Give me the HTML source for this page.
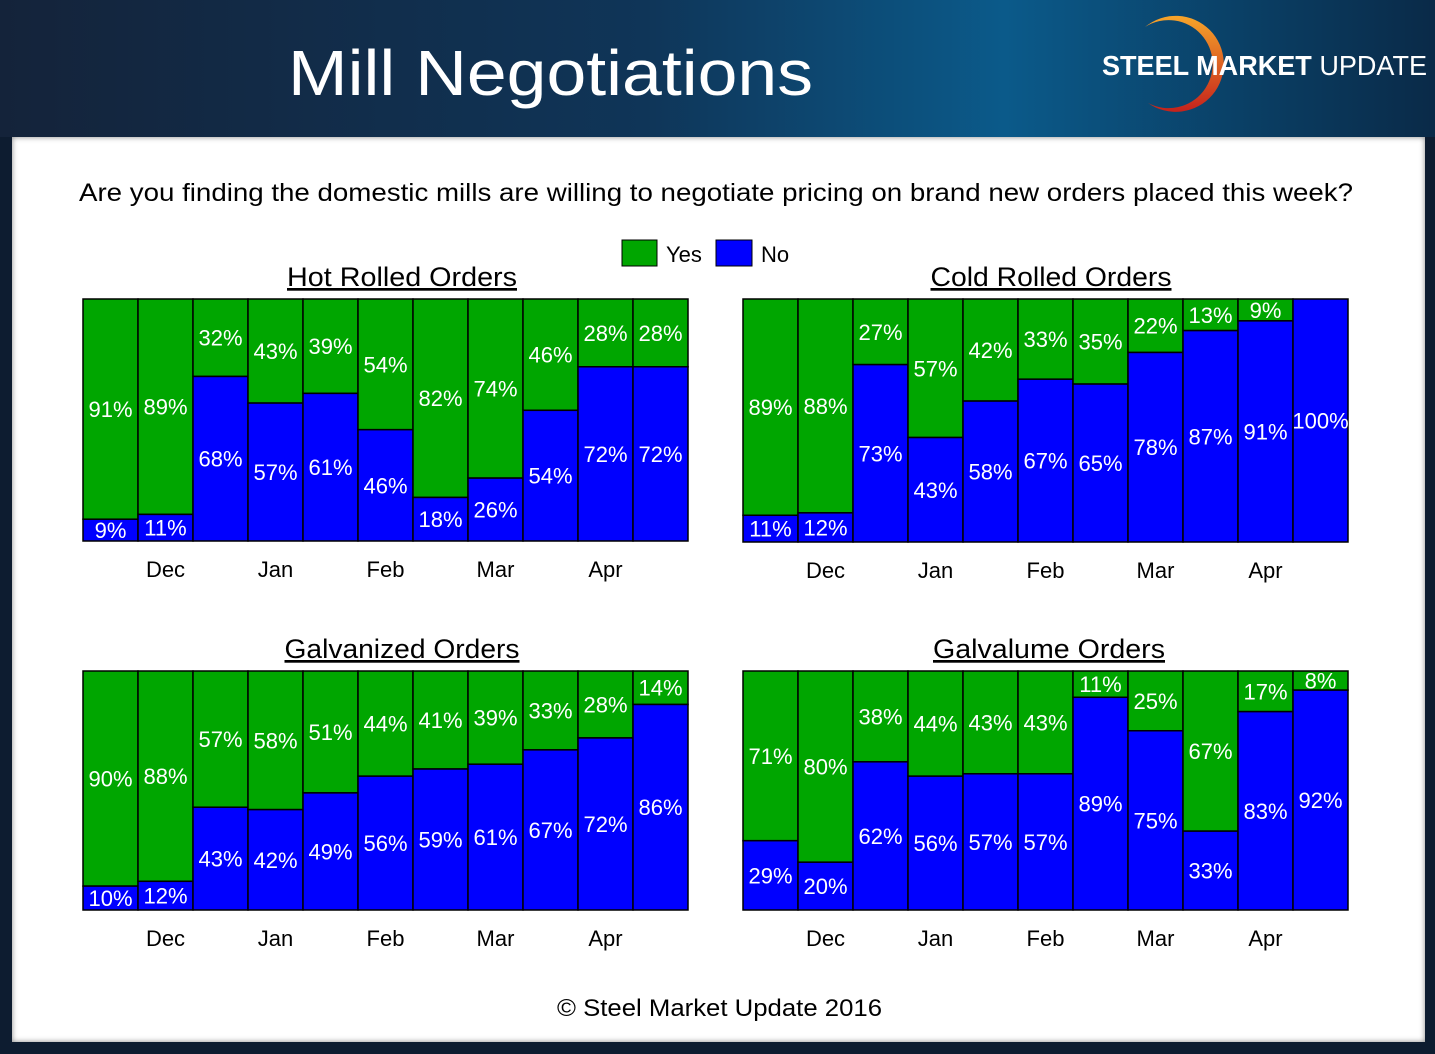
<!DOCTYPE html>
<html><head><meta charset="utf-8">
<style>
body{margin:0;width:1435px;height:1054px;overflow:hidden;background:#0d1c30;font-family:"Liberation Sans",sans-serif;position:relative}
#hdr{position:absolute;left:0;top:0;width:1435px;height:137px;background:linear-gradient(90deg,#14233a 0%,#0f3558 45%,#0b5a8a 70%,#0a2a48 100%)}
#panel{position:absolute;left:12px;top:137px;width:1413px;height:905px;background:#fff;box-shadow:inset 0 0 6px #888}
svg{position:absolute;left:0;top:0}
</style></head><body>
<div id="hdr"></div>
<div id="panel"></div>
<svg id="s" width="1435" height="1054">
<text x="288" y="95" font-size="64" fill="#fff" textLength="525" lengthAdjust="spacingAndGlyphs">Mill Negotiations</text>
<g>
<defs><linearGradient id="og" x1="0" y1="0" x2="0" y2="1"><stop offset="0" stop-color="#f7a52a"/><stop offset="1" stop-color="#c4221c"/></linearGradient></defs>
<path d="M1145 27 A48 48 0 1 1 1148 103 A44 44 0 1 0 1145 27 Z" fill="url(#og)"/>
<text x="1102" y="75" font-size="28" fill="#fff" font-weight="bold" textLength="325" lengthAdjust="spacingAndGlyphs">STEEL MARKET <tspan font-weight="normal">UPDATE</tspan></text>
</g>
<text x="79" y="201" font-size="25" fill="#000" textLength="1274" lengthAdjust="spacingAndGlyphs">Are you finding the domestic mills are willing to negotiate pricing on brand new orders placed this week?</text>
<g>
<rect x="622" y="240" width="35" height="26" fill="#00a600" stroke="#000"/>
<text x="666" y="262" font-size="22">Yes</text>
<rect x="716" y="240" width="36" height="26" fill="#0000ff" stroke="#000"/>
<text x="761" y="262" font-size="22">No</text>
</g>
<text x="557" y="1016" font-size="24" textLength="325" lengthAdjust="spacingAndGlyphs">© Steel Market Update 2016</text>
</svg>
<script>
const months=["Dec","Jan","Feb","Mar","Apr"];
const hrYes=[91,89,32,43,39,54,82,74,46,28,28];
const hrNo=[9,11,68,57,61,46,18,26,54,72,72];
const crYes=[89,88,27,57,42,33,35,22,13,9,0];
const crNo=[11,12,73,43,58,67,65,78,87,91,100];
const gvYes=[90,88,57,58,51,44,41,39,33,28,14];
const gvNo=[10,12,43,42,49,56,59,61,67,72,86];
const glYes=[71,80,38,44,43,43,11,25,67,17,8];
const glNo=[29,20,62,56,57,57,89,75,33,83,92];
const titles=["Hot Rolled Orders","Cold Rolled Orders","Galvanized Orders","Galvalume Orders"];
const titleLens=[230,241,235,232];
const NS="http://www.w3.org/2000/svg";
const svg=document.getElementById('s');
function mk(t,a,p){const e=document.createElementNS(NS,t);for(const k in a)e.setAttribute(k,a[k]);(p||svg).appendChild(e);return e;}
function chart(idx,x0,y0,w,h,yes,no,slug,tc){
  const g=mk('g',{});
  
  
  const n=yes.length,bw=w/n;
  const ys=v=>h*v/100;
  const tt=mk('text',{x:tc,y:y0-13,'font-size':27,'text-anchor':'middle','text-decoration':'underline',textLength:titleLens[idx],lengthAdjust:'spacingAndGlyphs'},g);
  tt.textContent=titles[idx];
  
  
  for(let i=0;i<n;i++){
    const x=x0+i*bw,gh=ys(yes[i]),nh=ys(no[i]);
    if(yes[i]>0){
      const r=mk('rect',{x:x,y:y0,width:bw,height:gh,fill:'#00a600',stroke:'#000','stroke-width':1.5},g);
      
      
      const t=mk('text',{x:x+bw/2,y:y0+gh/2+8,'font-size':22,fill:'#fff','text-anchor':'middle'},g);
      t.textContent=yes[i]+'%';
      
      
    }
    if(no[i]>0){
      const r=mk('rect',{x:x,y:y0+h-nh,width:bw,height:nh,fill:'#0000ff',stroke:'#000','stroke-width':1.5},g);
      
      
      const t=mk('text',{x:x+bw/2,y:y0+h-nh/2+8,'font-size':22,fill:'#fff','text-anchor':'middle'},g);
      t.textContent=no[i]+'%';
      
      
    }
  }
  months.forEach((m,j)=>{
    const t=mk('text',{x:x0+(2*j+1.5)*bw,y:y0+h+36,'font-size':22,'text-anchor':'middle'},g);
    t.textContent=m;
    
    
  });
}
chart(0,83,299,605,242,hrYes,hrNo,'hot-rolled',402);
chart(1,743,299,605,243,crYes,crNo,'cold-rolled',1051);
chart(2,83,671,605,239,gvYes,gvNo,'galvanized',402);
chart(3,743,671,605,239,glYes,glNo,'galvalume',1049);
</script>
</body></html>
